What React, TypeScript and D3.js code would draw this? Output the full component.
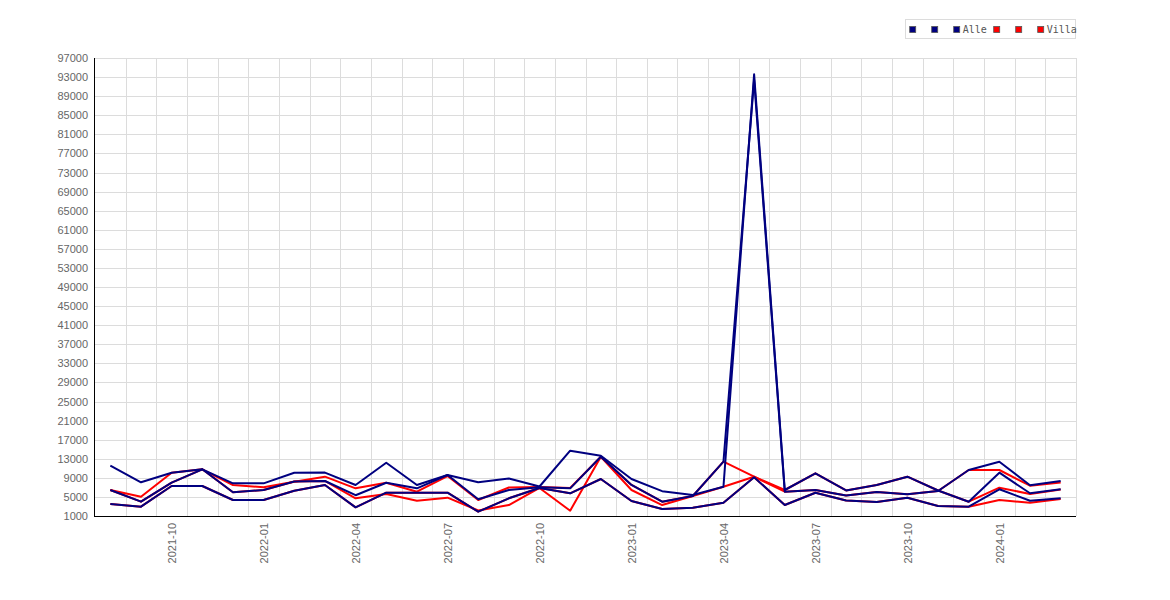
import * as d3 from "d3";
import { useEffect, useRef } from "react";

// months on the x axis (one band per month)
const months = [
  "2021-08", "2021-09", "2021-10", "2021-11", "2021-12",
  "2022-01", "2022-02", "2022-03", "2022-04", "2022-05", "2022-06",
  "2022-07", "2022-08", "2022-09", "2022-10", "2022-11", "2022-12",
  "2023-01", "2023-02", "2023-03", "2023-04", "2023-05", "2023-06",
  "2023-07", "2023-08", "2023-09", "2023-10", "2023-11", "2023-12",
  "2024-01", "2024-02", "2024-03",
];

const alleA = [
  11540, 8060, 10080, 10790, 7850, 7850, 10080, 10100, 7500, 12170, 7500,
  9600, 8060, 8860, 7180, 14690, 13640, 8750, 6200, 5400, 7140, 93600, 6450,
  9950, 6350, 7500, 9240, 6350, 4000, 10080, 5760, 6600,
];
const alleB = [
  6450, 4000, 7980, 10790, 5970, 6450, 8230, 8340, 5360, 7980, 6800, 9600,
  4500, 6450, 7020, 6800, 13430, 7500, 4000, 5190, 12380, 92400, 6090, 6450,
  5300, 6030, 5550, 6240, 10640, 12380, 7430, 8340,
];
const alleC = [
  3520, 2950, 7290, 7290, 4350, 4350, 6300, 7500, 2820, 5880, 5880, 5880,
  1900, 4710, 6870, 5760, 8750, 4140, 2470, 2740, 3790, 9110, 3300, 5880,
  4250, 3930, 4840, 3100, 2950, 6600, 4200, 4710,
];

const villaA = [
  6450, 5050, 10080, 10790, 7500, 7020, 8190, 9240, 6800, 7980, 6090, 9380,
  4350, 6970, 7080, 6870, 13430, 7500, 4000, 5190, 12380, 9240, 6090, 6450,
  5300, 6030, 5550, 6240, 10640, 10640, 7350, 8020,
];
const villaB = [
  6450, 4000, 7980, 10790, 5970, 6450, 8230, 8340, 4710, 5610, 4200, 4840,
  2150, 3300, 6870, 2110, 13430, 6450, 3300, 5190, 7140, 9240, 6450, 9950,
  6350, 7500, 9240, 6350, 4000, 6930, 5610, 6550,
];
const villaC = [
  3520, 2950, 7290, 7290, 4350, 4350, 6300, 7500, 2820, 5880, 5880, 5880,
  1900, 4710, 6870, 5760, 8750, 4140, 2470, 2740, 3790, 9110, 3300, 5880,
  4250, 3930, 4840, 3100, 2950, 4350, 3790, 4560,
];

const yTicks = d3.range(1000, 97001, 4000);

const legendItems = [
  { label: " ", color: "#000080" },
  { label: " ", color: "#000080" },
  { label: "Alle", color: "#000080" },
  { label: " ", color: "#ff0000" },
  { label: " ", color: "#ff0000" },
  { label: "Villa", color: "#ff0000" },
];

const width = 1170;
const height = 600;

export default function App() {
  const ref = useRef<SVGSVGElement>(null);

  useEffect(() => {
    if (!ref.current) return;
    const svg = d3.select(ref.current);
    svg.selectAll("*").remove();

    const left = 95;
    const right = 1076;
    const top = 58;
    const bottom = 516;

    const x = d3.scaleBand<string>().domain(months).range([left, right]);
    const y = d3.scaleLinear().domain([1000, 97000]).range([bottom, top]);
    const cx = (i: number) => (x(months[i]) as number) + x.bandwidth() / 2;

    // grid
    const grid = svg
      .append("g")
      .attr("stroke", "#dcdcdc")
      .attr("stroke-width", 1)
      .attr("shape-rendering", "crispEdges");

    grid
      .selectAll("line.h")
      .data(yTicks.slice(1))
      .join("line")
      .attr("class", "h")
      .attr("x1", left)
      .attr("x2", right)
      .attr("y1", (d) => Math.round(y(d)) + 0.5)
      .attr("y2", (d) => Math.round(y(d)) + 0.5);

    const vLines = months.slice(1).map((m) => x(m) as number).concat([right]);
    grid
      .selectAll("line.v")
      .data(vLines)
      .join("line")
      .attr("class", "v")
      .attr("x1", (d) => Math.round(d) + 0.5)
      .attr("x2", (d) => Math.round(d) + 0.5)
      .attr("y1", top)
      .attr("y2", bottom);

    // series: red underneath, navy on top
    const line = d3
      .line<number>()
      .x((_, i) => cx(i))
      .y((d) => y(d));

    const series = [
      { values: villaA, color: "#ff0000" },
      { values: villaB, color: "#ff0000" },
      { values: villaC, color: "#ff0000" },
      { values: alleA, color: "#000080" },
      { values: alleB, color: "#000080" },
      { values: alleC, color: "#000080" },
    ];

    svg
      .append("g")
      .selectAll("path")
      .data(series)
      .join("path")
      .attr("d", (d) => line(d.values))
      .attr("fill", "none")
      .attr("stroke", (d) => d.color)
      .attr("stroke-width", 2)
      .attr("stroke-linejoin", "round");

    // axes
    const axes = svg
      .append("g")
      .attr("stroke", "#000")
      .attr("stroke-width", 1)
      .attr("shape-rendering", "crispEdges");
    axes.append("line").attr("x1", left - 0.5).attr("x2", left - 0.5).attr("y1", top).attr("y2", bottom + 1);
    axes.append("line").attr("x1", left - 1).attr("x2", right).attr("y1", bottom + 0.5).attr("y2", bottom + 0.5);

    // y labels
    svg
      .append("g")
      .selectAll("text")
      .data(yTicks)
      .join("text")
      .attr("x", 88)
      .attr("y", (d) => y(d) + 4)
      .attr("text-anchor", "end")
      .attr("font-family", "Liberation Sans, Arial, sans-serif")
      .attr("font-size", "11px")
      .attr("fill", "#666")
      .text((d) => d);

    // x labels (quarters only)
    const shown = months
      .map((m, i) => ({ m, i }))
      .filter((d) => ["01", "04", "07", "10"].includes(d.m.slice(5)));
    svg
      .append("g")
      .selectAll("text")
      .data(shown)
      .join("text")
      .attr("transform", (d) => `translate(${cx(d.i) + 4.5},523) rotate(-90)`)
      .attr("text-anchor", "end")
      .attr("font-family", "Liberation Sans, Arial, sans-serif")
      .attr("font-size", "11px")
      .attr("fill", "#666")
      .text((d) => d.m);

    // legend
    const lg = svg.append("g");
    lg.append("rect")
      .attr("x", 905.5)
      .attr("y", 19.5)
      .attr("width", 170)
      .attr("height", 19)
      .attr("fill", "#fff")
      .attr("stroke", "#dcdcdc");

    let pos = 912.7;
    legendItems.forEach((item) => {
      lg.append("rect")
        .attr("x", pos - 3)
        .attr("y", 26.5)
        .attr("width", 6)
        .attr("height", 6)
        .attr("fill", item.color)
        .attr("stroke", "#555")
        .attr("stroke-width", 0.8);
      lg.append("text")
        .attr("x", pos + 6)
        .attr("y", 33)
        .attr("font-family", "DejaVu Sans Mono, monospace")
        .attr("font-size", "10px")
        .attr("fill", "#555")
        .attr("xml:space", "preserve")
        .text(item.label);
      pos += 16 + 6 * item.label.length;
    });
  }, []);

  return (
    <svg
      ref={ref}
      width={width}
      height={height}
      style={{ position: "absolute", left: 0, top: 0, background: "#fff" }}
    />
  );
}
